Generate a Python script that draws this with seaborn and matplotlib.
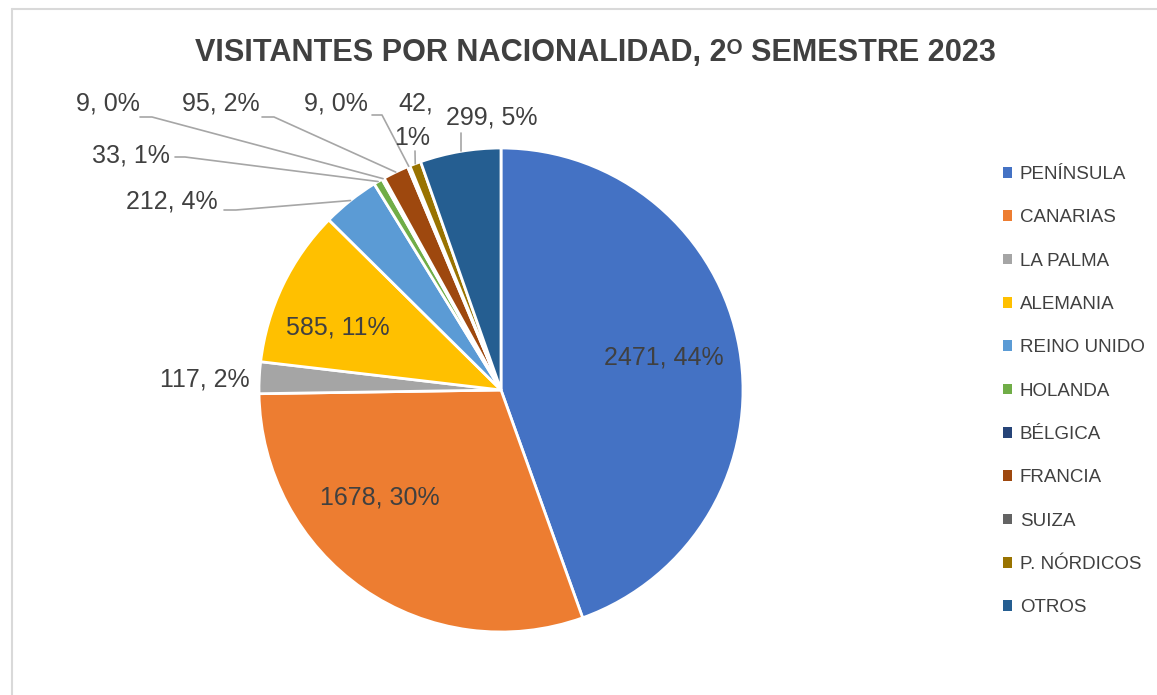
import numpy as np
import matplotlib
matplotlib.use("Agg")
import matplotlib.pyplot as plt
import seaborn as sns
from matplotlib.patches import Rectangle
from matplotlib.lines import Line2D

categories = ["PENÍNSULA", "CANARIAS", "LA PALMA", "ALEMANIA", "REINO UNIDO", "HOLANDA",
              "BÉLGICA", "FRANCIA", "SUIZA", "P. NÓRDICOS", "OTROS"]
values = [2471, 1678, 117, 585, 212, 33, 9, 95, 9, 42, 299]
percent_labels = ["44%", "30%", "2%", "11%", "4%", "1%", "0%", "2%", "0%", "1%", "5%"]
colors_hex = ["#4472C4", "#ED7D31", "#A5A5A5", "#FFC000", "#5B9BD5", "#70AD47",
              "#264478", "#9E480E", "#636363", "#997300", "#255E91"]
title = "VISITANTES POR NACIONALIDAD, 2ᴼ SEMESTRE 2023"

sns.set_theme(style="white")
plt.rcParams['font.family'] = ['Liberation Sans', 'DejaVu Sans']
palette = sns.color_palette(colors_hex)

W, H = 1157, 695
fig = plt.figure(figsize=(W / 100, H / 100), dpi=100)
# chart frame: only top and left edges visible
fig.lines.append(Line2D([11.5 / W, 1.0], [1 - 8.5 / H, 1 - 8.5 / H], transform=fig.transFigure,
                        color="#D9D9D9", linewidth=1.5))
fig.lines.append(Line2D([11.5 / W, 11.5 / W], [0.0, 1 - 8.5 / H], transform=fig.transFigure,
                        color="#D9D9D9", linewidth=1.5))

cx, cy, R = 501, 390, 242
ax = fig.add_axes([(cx - R) / W, (H - cy - R) / H, 2 * R / W, 2 * R / H])
wedges, _ = ax.pie(values, colors=palette, startangle=90, counterclock=False, radius=1,
                   wedgeprops=dict(edgecolor="white", linewidth=2))
ax.set_xlim(-1, 1)
ax.set_ylim(-1, 1)
ax.set_aspect("equal")
ax.axis("off")

def d(px, py):
    return ((px - cx) / R, (cy - py) / R)

total = sum(values)
cum = np.cumsum([0] + values[:-1])
mid = [np.deg2rad(90 - 360 * (c + v / 2) / total) for c, v in zip(cum, values)]

txt_kw = dict(fontsize=18, color="#404040")
labels = [f"{v}, {p}" for v, p in zip(values, percent_labels)]

# inside labels
inside = {0: (664, 357), 1: (380, 497), 3: (338, 327)}
for i, (px, py) in inside.items():
    x, y = d(px, py)
    ax.text(x, y, labels[i], ha="center", va="center", **txt_kw)

# La Palma label (no leader)
x, y = d(250, 380)
ax.text(x, y, labels[2], ha="right", va="center", **txt_kw)

line_kw = dict(color="#A6A6A6", linewidth=1.2, clip_on=False)
# outside labels with leader lines
outside = {
    4: (218, 202, 224, 210, 236),
    5: (170, 155, 175, 157, 185),
    6: (140, 104, 140, 117, 152),
    7: (260, 104, 262, 117, 274),
    8: (368, 104, 372, 115, 382),
}
for i, (tx, ty, lx, ly, lx2) in outside.items():
    x, y = d(tx, ty)
    ax.text(x, y, labels[i], ha="right", va="center", **txt_kw)
    ex, ey = 1.0 * np.cos(mid[i]), 1.0 * np.sin(mid[i])
    p0, p1 = d(lx, ly), d(lx2, ly)
    ax.plot([p0[0], p1[0], ex], [p0[1], p1[1], ey], **line_kw)

# P. NÓRDICOS (two-line label)
x, y = d(416, 103)
ax.text(x, y, f"{values[9]},", ha="center", va="center", **txt_kw)
x, y = d(412, 138)
ax.text(x, y, percent_labels[9], ha="center", va="center", **txt_kw)
ex, ey = np.cos(mid[9]), np.sin(mid[9])
p0 = d(415, 151)
ax.plot([p0[0], ex], [p0[1], ey], **line_kw)

# OTROS
x, y = d(492, 118)
ax.text(x, y, labels[10], ha="center", va="center", **txt_kw)
p0 = d(461, 133)
p1 = d(461, 151)
ax.plot([p0[0], p1[0]], [p0[1], p1[1]], **line_kw)

fig.text(595 / W, 1 - 53 / H, title, ha="center", va="center", fontsize=22.1,
         fontweight="bold", color="#404040")

handles = [Rectangle((0, 0), 1, 1, facecolor=c, edgecolor="none") for c in palette]
leg = fig.legend(handles, categories, loc="upper left", bbox_to_anchor=(1003 / W, 1 - 166 / H),
                 frameon=False, handlelength=0.5, handleheight=0.5,
                 handletextpad=0.4, labelspacing=1.405, borderpad=0, borderaxespad=0,
                 prop={'family': ['Liberation Sans', 'DejaVu Sans'], 'size': 13.5})
for t in leg.get_texts():
    t.set_color("#404040")

fig.savefig("out.png", dpi=100, facecolor="white")
